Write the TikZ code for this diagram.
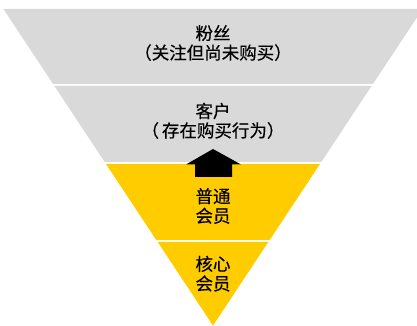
\documentclass[tikz,border=0pt]{standalone}
\usepackage{fontspec}
\newfontfamily\cjk[FakeBold=0.4]{Noto Sans CJK SC}
\definecolor{bandgray}{HTML}{D9D9D9}
\definecolor{bandyellow}{HTML}{FFCC00}
\begin{document}
\begin{tikzpicture}[x=1pt,y=1pt,
  lbl/.style={align=center,font=\cjk\fontsize{17.5}{19.5}\selectfont,inner sep=0pt,text=black}]
\useasboundingbox (0,0) rectangle (417,326);
\clip (0,0) rectangle (417,326);
% bands
\fill[bandgray]   (3.4,317) -- (422.6,317) -- (372.9,242) -- (53.1,242) -- cycle;
\fill[bandgray]   (54.4,240) -- (371.6,240) -- (321.3,164) -- (104.7,164) -- cycle;
\fill[bandyellow] (106.0,162) -- (320.0,162) -- (269.7,86) -- (156.3,86) -- cycle;
\fill[bandyellow] (157.7,84) -- (268.3,84) -- (213,0.4) -- cycle;
% arrow
\fill[black] (213,177) -- (241,161.5) -- (232,161.5) -- (232,149) -- (195,149) -- (195,161.5) -- (186,161.5) -- cycle;
% labels
\node[lbl] (fans) at (213,283) {粉丝\\（关注但尚未购买）};
\node[lbl] (cust) at (213,205.2) {客户\\（\,存在购买行为）};
\node[lbl] (member) at (213,120) {普通\\会员};
\node[lbl] (core) at (213,52.3) {核心\\会员};
\end{tikzpicture}
\end{document}
